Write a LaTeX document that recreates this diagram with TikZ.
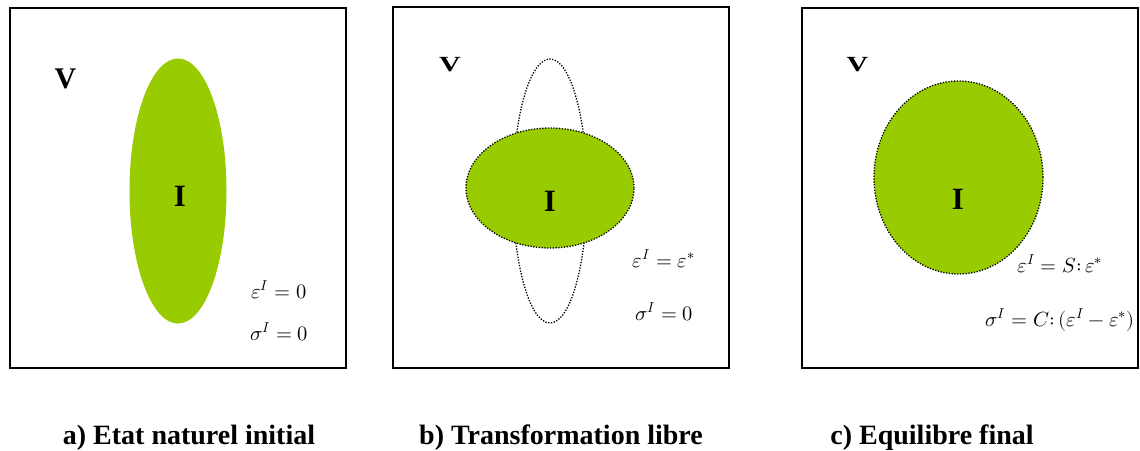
\documentclass[tikz,border=0pt]{standalone}
\usepackage{fontspec}
\usepackage{unicode-math}
\setmainfont{Liberation Serif}
\setmathfont{Latin Modern Math}
\usetikzlibrary{shapes.geometric}
\definecolor{incl}{HTML}{99CC00}
\tikzset{
  frame/.style={draw=black, line width=2pt},
  greenell/.style={ellipse, fill=incl, inner sep=0pt},
  dotline/.style={draw=black, line width=1.3pt, dash pattern=on 1.3pt off 1.5pt},
  vlabel/.style={font=\fontsize{30}{30}\selectfont\bfseries, inner sep=0pt},
  ilabel/.style={font=\fontsize{31}{31}\selectfont\bfseries, inner sep=0pt},
  eqlabel/.style={font=\fontsize{20.5}{20.5}\selectfont, inner sep=0pt},
  caption/.style={font=\fontsize{28}{28}\selectfont\bfseries, inner sep=0pt, anchor=base}
}
\begin{document}
\begin{tikzpicture}[x=1pt,y=-1pt]
\useasboundingbox (0,0) rectangle (1140,450);
\fill[white] (0,0) rectangle (1140,450);
% panel a
\node[frame, minimum width=336pt, minimum height=360pt, inner sep=0pt] (boxa) at (178,188) {};
\node[greenell, draw=incl, line width=1pt, minimum width=96pt, minimum height=264pt] (ella) at (178,191) {};
\node[vlabel] (va) at (65.5,78.5) {V};
\node[ilabel] (ia) at (180,196) {I};
\node[eqlabel] (epsa) at (279,290) {$\varepsilon^{I} = 0$};
\node[eqlabel] (siga) at (279,332) {$\sigma^{I} = 0$};
\node[caption] (capa) at (189,444) {a) Etat naturel initial};
% panel b
\node[frame, minimum width=336pt, minimum height=361pt, inner sep=0pt] (boxb) at (561,187.5) {};
\node[ellipse, dotline, minimum width=74pt, minimum height=264pt, inner sep=0pt] (oldb) at (550,191) {};
\node[greenell, dotline, minimum width=168pt, minimum height=120pt] (ellb) at (550,188) {};
\node[vlabel, yscale=0.72] (vb) at (450,64.5) {V};
\node[ilabel] (ib) at (550,201) {I};
\node[eqlabel] (epsb) at (664,259) {$\varepsilon^{I} = \varepsilon^{*}$};
\node[eqlabel] (sigb) at (664,312) {$\sigma^{I} = 0$};
\node[caption] (capb) at (561,444) {b) Transformation libre};
% panel c
\node[frame, minimum width=336pt, minimum height=360pt, inner sep=0pt] (boxc) at (970,188) {};
\node[greenell, dotline, minimum width=169pt, minimum height=193pt] (ellc) at (958.5,177.5) {};
\node[vlabel, yscale=0.72] (vc) at (857.5,64.5) {V};
\node[ilabel] (ic) at (958,199) {I};
\node[eqlabel] (epsc) at (1060,264) {$\varepsilon^{I} = S\mathpunct{:}\varepsilon^{*}$};
\node[eqlabel] (sigc) at (1060,320) {$\sigma^{I} = C\mathpunct{:}(\varepsilon^{I} - \varepsilon^{*})$};
\node[caption] (capc) at (932,444) {c) Equilibre final};
\end{tikzpicture}
\end{document}
